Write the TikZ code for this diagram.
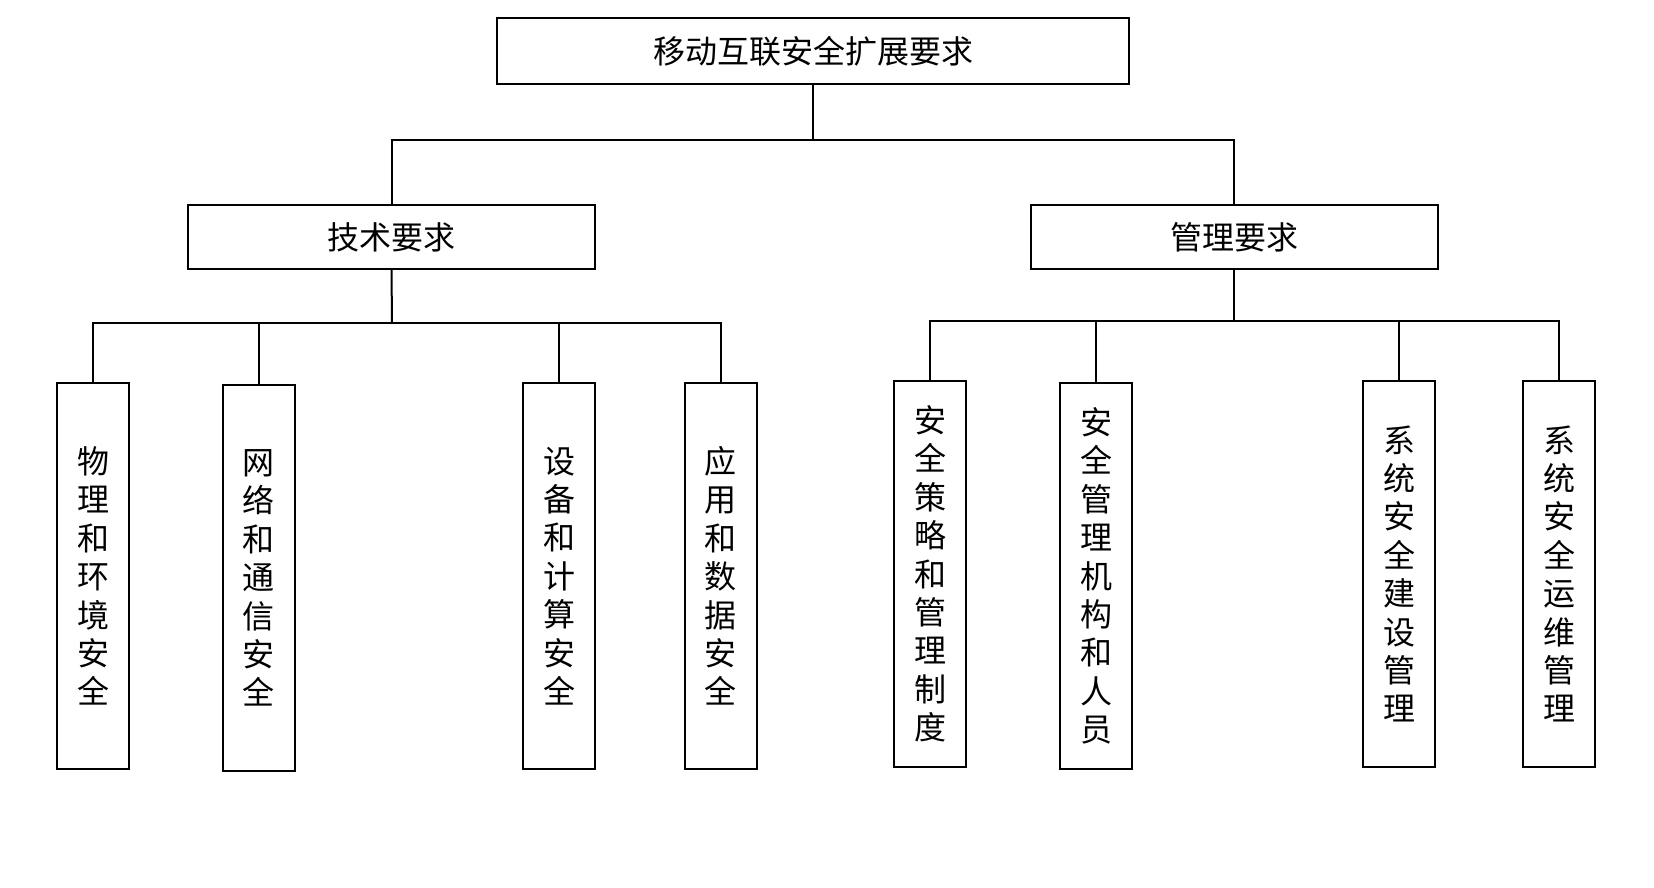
\documentclass[tikz,border=0pt]{standalone}
\usepackage{fontspec}
\setmainfont{Noto Sans CJK SC}
\usepackage{tikz}
\usetikzlibrary{positioning,calc}
\tikzset{box/.style={draw=black,line width=1pt,fill=white,align=center,inner sep=0pt},conn/.style={draw=black,line width=1pt}}
\begin{document}
\begin{tikzpicture}[x=0.5pt,y=-0.5pt,font=\fontsize{16}{19.2}\selectfont,
head/.style={box,minimum width=316pt,minimum height=33pt},
grp/.style={box,minimum width=203.5pt,minimum height=32pt},
leaf/.style={box,minimum width=36pt,minimum height=193pt}]
\useasboundingbox (0,0) rectangle (1654,888);
\node[head] (top) at (813,51) {移动互联安全扩展要求};
\node[grp] (tech) at (391.5,237) {技术要求};
\node[grp] (mgmt) at (1234,237) {管理要求};
\node[leaf] (l1) at (93,576) {物\\理\\和\\环\\境\\安\\全};
\node[leaf] (l2) at (258.5,578) {网\\络\\和\\通\\信\\安\\全};
\node[leaf] (l3) at (559,576) {设\\备\\和\\计\\算\\安\\全};
\node[leaf] (l4) at (720.5,576) {应\\用\\和\\数\\据\\安\\全};
\node[leaf] (r1) at (930,574) {安\\全\\策\\略\\和\\管\\理\\制\\度};
\node[leaf] (r2) at (1096,576) {安\\全\\管\\理\\机\\构\\和\\人\\员};
\node[leaf] (r3) at (1399,574) {系\\统\\安\\全\\建\\设\\管\\理};
\node[leaf] (r4) at (1559,574) {系\\统\\安\\全\\运\\维\\管\\理};
\coordinate (b0) at (813,140);
\coordinate (b1) at (392,323);
\coordinate (b2) at (1234,321);
\draw[conn] (top.south)--(b0);
\draw[conn] (tech.north)|-(b0)-|(mgmt.north);
\draw[conn] (tech.south)--(b1);
\draw[conn] (l1.north)|-(b1)-|(l4.north);
\draw[conn] (b1-|l2.north)--(l2.north);
\draw[conn] (b1-|l3.north)--(l3.north);
\draw[conn] (mgmt.south)--(b2);
\draw[conn] (r1.north)|-(b2)-|(r4.north);
\draw[conn] (b2-|r2.north)--(r2.north);
\draw[conn] (b2-|r3.north)--(r3.north);
\end{tikzpicture}
\end{document}
